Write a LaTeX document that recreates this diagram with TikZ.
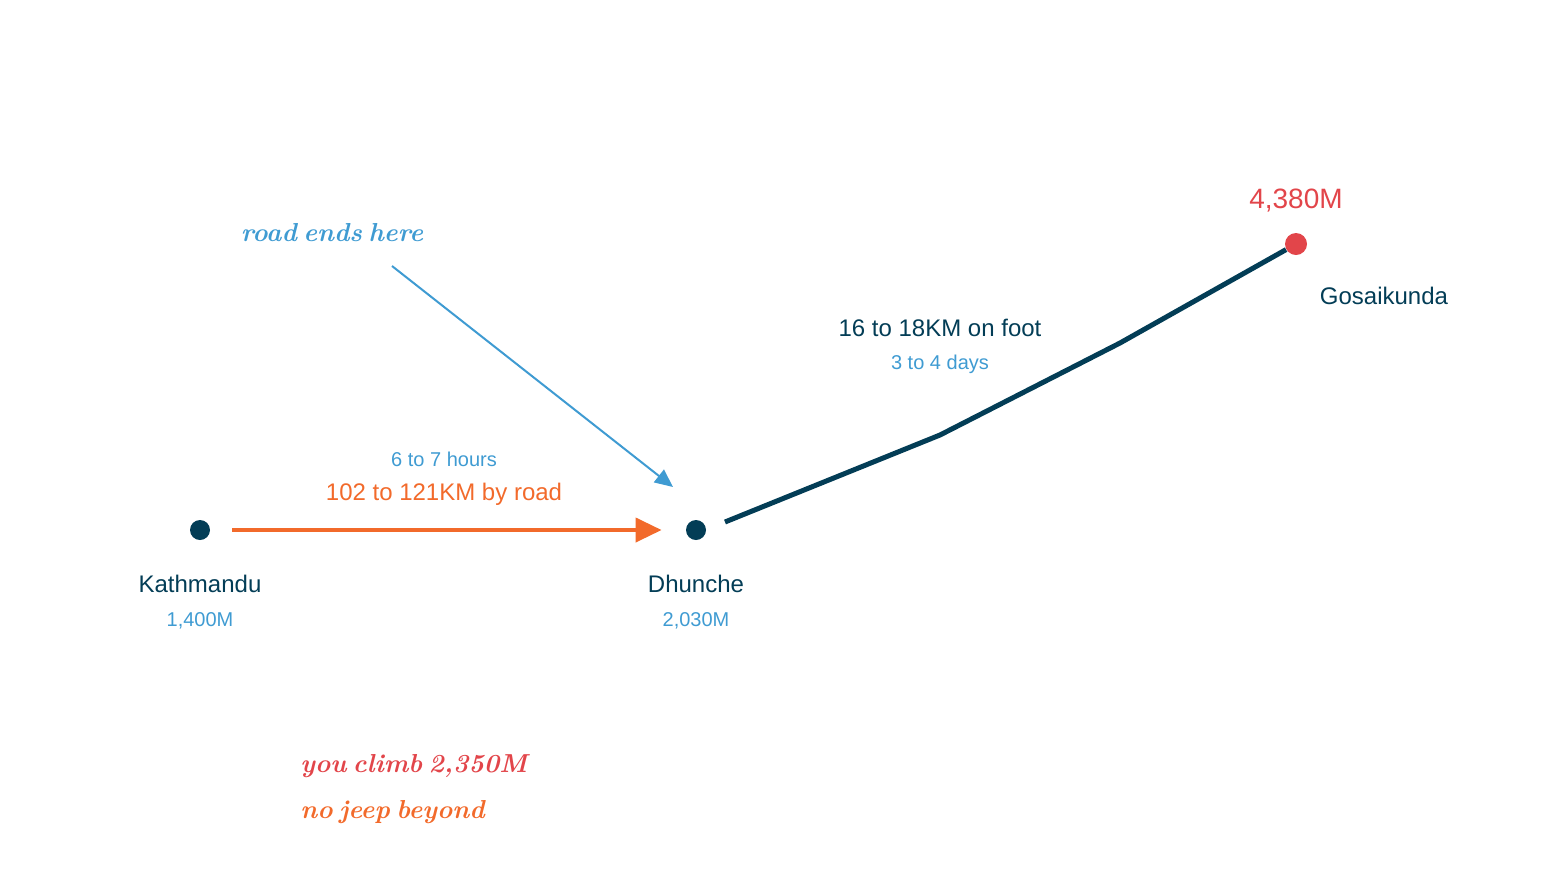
\documentclass[tikz,border=0pt]{standalone}
\usepackage{fontspec}
\setmainfont{Liberation Sans}
\newfontfamily\handfont[WordSpace=0.6]{Latin Modern Roman}
\usetikzlibrary{arrows.meta}
\usepackage{xcolor}
\definecolor{navy}{HTML}{033D56}
\definecolor{roadorange}{HTML}{F26A2B}
\definecolor{skyblue}{HTML}{3F9BD2}
\definecolor{peakred}{HTML}{E2454A}

\begin{document}
\begin{tikzpicture}[x=0.5pt,y=-0.5pt,
  stop/.style={circle,fill=navy,inner sep=0pt,minimum size=10pt},
  place/.style={text=navy,font=\fontsize{12}{14}\selectfont,anchor=base,inner sep=0pt},
  height/.style={text=skyblue,font=\fontsize{10}{12}\selectfont,anchor=base,inner sep=0pt},
  scrawl/.style={font=\handfont\bfseries\itshape\fontsize{13}{16}\selectfont,inner sep=0pt}]
\useasboundingbox (0,0) rectangle (1560,880);

%stops
\node [stop] (kath) at (200,530) {};
\node [stop] (dhun) at (696,530) {};
\node [circle, fill=peakred, inner sep=0pt, minimum size=11pt] (gosa) at (1296,244) {};

%trail bends
\coordinate (trailstart) at (725,522); \coordinate (bendone) at (940,435); \coordinate (bendtwo) at (1120,343);

%note arrow ends
\coordinate (notestart) at (392,266); \coordinate (roadend) at (673,487);

%stop labels
\node [place] (kathname) at (200,592) {Kathmandu};
\node [height] (kathheight) at (200,626) {1,400M};
\node [place] (dhunname) at (696,592) {Dhunche};
\node [height] (dhunheight) at (696,626) {2,030M};
\node [place] (gosaname) at (1384,304) {Gosaikunda};
\node [text=peakred, font=\fontsize{14}{16}\selectfont, anchor=base, inner sep=0pt] (gosaheight) at (1296,208) {4,380M};

%leg labels
\node [height] (roadtime) at (444,466) {6 to 7 hours};
\node [text=roadorange, font=\fontsize{12}{14}\selectfont, anchor=base, inner sep=0pt] (roadlength) at (444,500) {102 to 121KM by road};
\node [place] (footlength) at (940,336) {16 to 18KM on foot};
\node [height] (foottime) at (940,369) {3 to 4 days};

%handwritten notes
\node [scrawl, text=skyblue, anchor=base] (roadnote) at (332,241) {road ends here};
\node [scrawl, text=peakred, anchor=base west] (climbnote) at (300,772) {you climb 2,350M};
\node [scrawl, text=roadorange, anchor=base west] (jeepnote) at (300,818) {no jeep beyond};

%road leg
\draw [roadorange, line width=2pt, shorten <=11pt, shorten >=12pt, -{Triangle[length=13pt,width=12pt]}] (kath) -- (dhun);

%foot leg
\draw [navy, line width=2.5pt, line join=round] (trailstart) -- (bendone) -- (bendtwo) -- (gosa);

%note arrow
\draw [skyblue, line width=1pt, -{Triangle[length=9pt,width=8pt]}] (notestart) -- (roadend);

\end{tikzpicture}
\end{document}
